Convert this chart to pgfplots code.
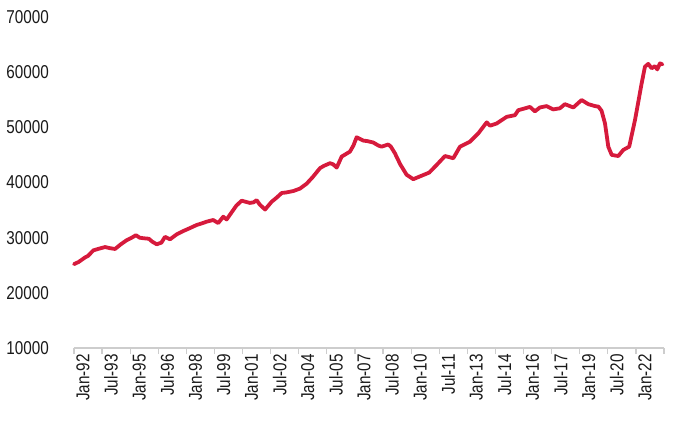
\documentclass[border=0pt]{standalone}
\usepackage{fontspec}
\setmainfont{Liberation Sans}[FakeStretch=0.82]
\usepackage{pgfplots}
\pgfplotsset{compat=1.18}
\definecolor{linered}{RGB}{214,26,60}
\definecolor{axgray}{RGB}{205,205,205}
\definecolor{txt}{RGB}{25,25,25}
\begin{document}
\begin{tikzpicture}
\path[use as bounding box] (-74pt,-89pt) rectangle (606pt,348pt);
\begin{axis}[
  scale only axis,
  width=590pt, height=331pt,
  xmin=0, xmax=378,
  ymin=10000, ymax=70000,
  axis x line*=bottom,
  axis y line*=left,
  y axis line style={draw=none},
  x axis line style={draw=axgray, line width=1.2pt},
  ytick={10000,20000,...,70000},
  scaled y ticks=false,
  ytick style={draw=none},
  xtick={0,18,...,378},
  xticklabels={Jan-92,Jul-93,Jan-95,Jul-96,Jan-98,Jul-99,Jan-01,Jul-02,Jan-04,Jul-05,Jan-07,Jul-08,Jan-10,Jul-11,Jan-13,Jul-14,Jan-16,Jul-17,Jan-19,Jul-20,Jan-22,{}},
  xtick style={draw=axgray, line width=1.2pt},
  tick align=outside,
  major tick length=6pt,
  /pgf/number format/assume math mode=true,
  /pgf/number format/1000 sep={},
  tick label style={font=\fontsize{18.6}{22}\selectfont, text=txt},
  yticklabel style={inner sep=0pt, xshift=-19pt},
  xticklabel style={rotate=90, anchor=east, inner sep=0pt, yshift=-9pt},
  clip=false,
]
\addplot[color=linered, line width=3.8pt, line join=round, line cap=round] coordinates {
(0,25200) (3,25600) (7,26400) (9,26700) (12.4,27700) (16,28000) (19.9,28300) (23,28100)
(26.3,27950) (30,28800) (33.8,29550) (37,30000) (39.7,30450) (42,30000) (44.4,29900)
(48,29800) (50,29300) (53,28800) (56,29100) (58.3,30150) (61.5,29700) (65.8,30600)
(70,31200) (74,31700) (78.6,32300) (82,32600) (85,32900) (89.2,33200) (92.4,32650)
(95.6,33800) (97.8,33300) (101,34600) (104,35800) (107.4,36700) (110,36500) (112.7,36300)
(115,36400) (117,36800) (119,36000) (122.4,35100) (126.6,36500) (130,37300) (133.1,38100)
(136,38200) (140.5,38450) (144.8,38900) (149.1,39800) (153,41000) (157.6,42600) (160,43000)
(164,43500) (166,43300) (168.3,42700) (171.5,44700) (176.8,45600) (179,46700) (181.1,48200)
(185.3,47600) (188,47500) (191.7,47250) (195,46700) (197.1,46500) (201.3,46900) (203,46500)
(205.6,45300) (209,43300) (213.1,41400) (217.4,40600) (221.6,41100) (227.6,41800) (232.3,43170)
(237.7,44800) (243,44400) (247.3,46500) (253.7,47400) (259,48900) (264.4,50900) (266.5,50300)
(270.8,50700) (277.2,51900) (282.5,52200) (284.6,53100) (292.1,53700) (295.3,52900) (298.5,53600)
(302.8,53850) (307,53250) (311.3,53450) (314.5,54200) (319.9,53600) (325.2,54950) (329.5,54200)
(333.8,53850) (336,53750) (338,53000) (340.2,50700) (342.3,46500) (344.5,45000) (348.7,44800)
(351.9,45900) (355.7,46500) (359.4,51300) (363.7,58000) (365.8,61000) (367.9,61500) (370.1,60700)
(372.2,61100) (373.7,60500) (375.4,61600) (377,61400)
};
\end{axis}
\end{tikzpicture}
\end{document}
